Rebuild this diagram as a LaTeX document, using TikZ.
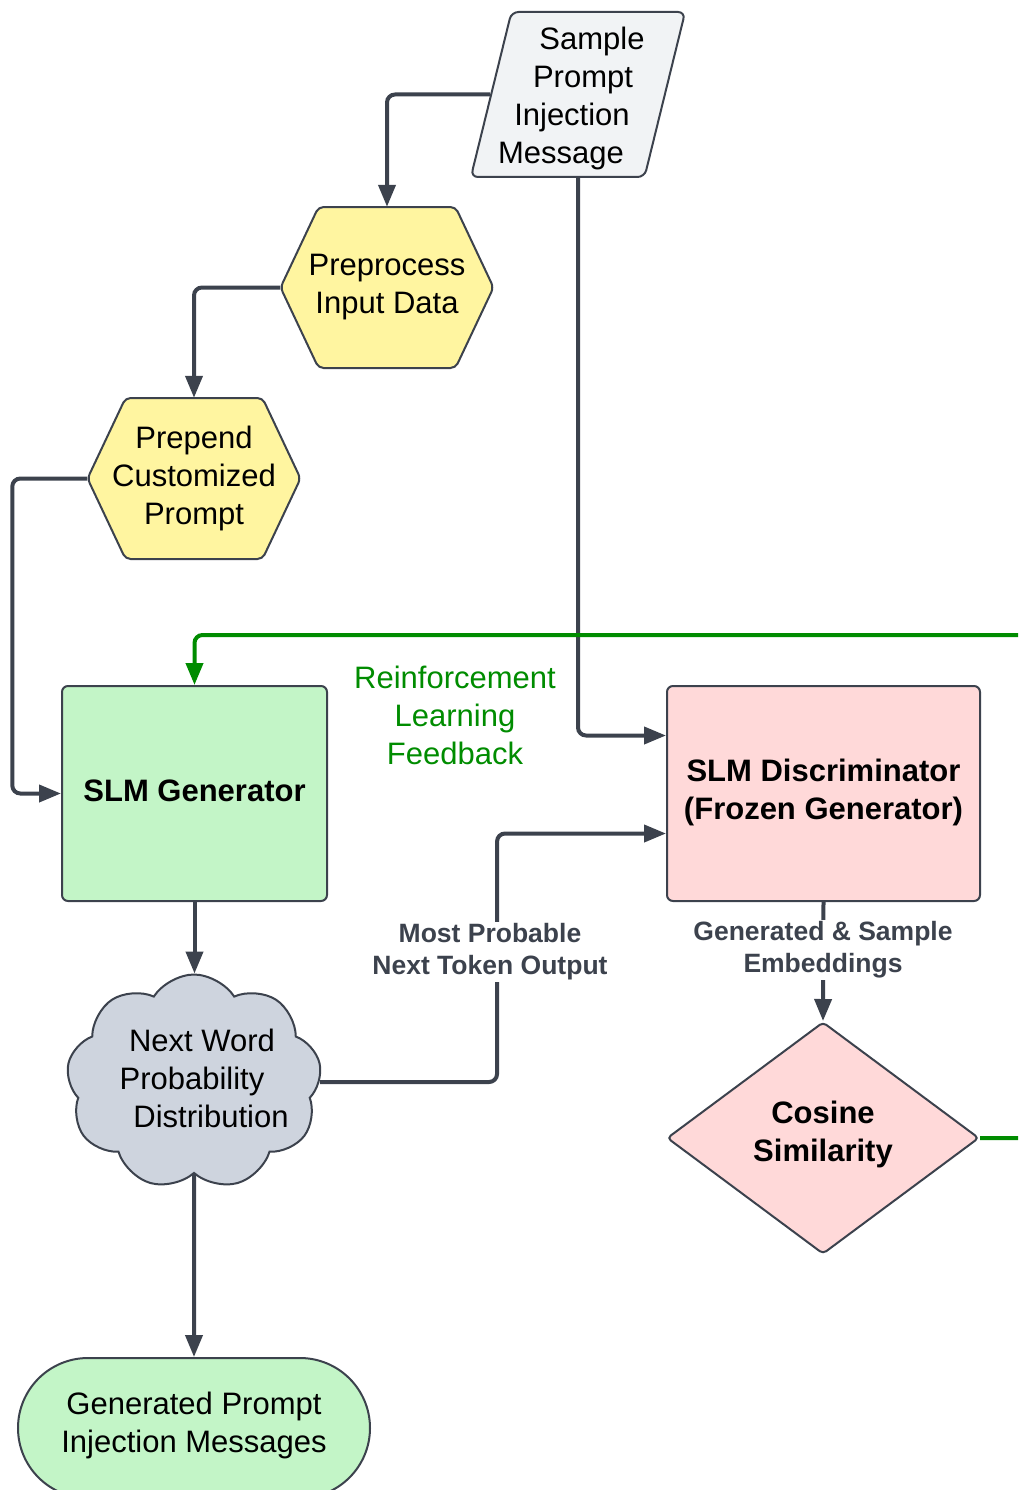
\documentclass[tikz,border=0pt]{standalone}
\usepackage{fontspec}
\setmainfont{Liberation Sans}
\usetikzlibrary{arrows.meta,shapes.geometric,shapes.symbols}
\definecolor{edgegray}{RGB}{60,66,77}
\definecolor{fbgreen}{RGB}{0,140,0}
\definecolor{boxgreen}{RGB}{195,245,199}
\definecolor{boxpink}{RGB}{255,217,217}
\definecolor{boxyellow}{RGB}{255,245,160}
\definecolor{boxgray}{RGB}{241,243,245}
\definecolor{cloudgray}{RGB}{206,212,222}
\begin{document}
\begin{tikzpicture}[x=1pt, y=-1pt,
  every node/.style={font=\fontsize{31}{38}\selectfont, align=center, text=black, inner sep=0pt},
  outline/.style={draw=edgegray, line width=2pt},
  flow/.style={draw=edgegray, line width=4pt, rounded corners=8pt},
  tip/.style={-{Triangle[length=22pt,width=17pt]}},
  fb/.style={draw=fbgreen, line width=4pt, rounded corners=8pt},
  tag/.style={font=\fontsize{26.5}{32}\selectfont\bfseries, text=edgegray, fill=white, inner sep=2pt}]
\clip (0,0) rectangle (1018,1490);

% input message
\node[trapezium, trapezium left angle=75, trapezium right angle=105, trapezium stretches=true,
  outline, fill=boxgray, rounded corners=7pt, minimum width=213, minimum height=165] (sample) at (578,94.5)
  {\rule{0pt}{31pt}\hspace*{28pt}Sample\\\hspace*{10pt}Prompt\\\hspace*{-12pt}Injection\\\hspace*{-34pt}Message};

% hexagons
\foreach \cx/\cy in {387/287.5, 194/478.5}
\filldraw[outline, fill=boxyellow, rounded corners=5pt] ({\cx-106.5},\cy) -- ({\cx-68.5},{\cy-80.5}) -- ({\cx+68.5},{\cy-80.5})
  -- ({\cx+106.5},\cy) -- ({\cx+68.5},{\cy+80.5}) -- ({\cx-68.5},{\cy+80.5}) -- cycle;
\node[minimum width=213, minimum height=161] (prep) at (387,287.5) {Preprocess\\Input Data};
\node[minimum width=213, minimum height=161] (prepend) at (194,478.5) {Prepend\\Customized\\Prompt};

% models
\node[outline, fill=boxgreen, rounded corners=6pt, minimum width=265, minimum height=215,
  font=\fontsize{31}{38}\selectfont\bfseries] (gen) at (194.5,793.5) {SLM Generator\\[-32pt]};
\node[outline, fill=boxpink, rounded corners=6pt, minimum width=313, minimum height=215,
  font=\fontsize{31}{38}\selectfont\bfseries] (disc) at (823.5,793.5) {SLM Discriminator\\(Frozen Generator)\\[-30pt]};

\node[cloud, cloud puffs=9, cloud puff arc=115, cloud ignores aspect, outline, fill=cloudgray,
  minimum width=255, minimum height=215] (cloud) at (194,1082) {};
\node (cloudtxt) at (193,1078) {\hspace*{18pt}Next Word\\\hspace*{-2pt}Probability\\\hspace*{36pt}Distribution};

\node[diamond, aspect=1.34, outline, fill=boxpink, rounded corners=4pt, minimum width=312, minimum height=232,
  font=\fontsize{31}{38}\selectfont\bfseries] (cos) at (823,1138) {Cosine\\Similarity\\[-24pt]};

\node[outline, fill=boxgreen, rounded corners=70pt, minimum width=352, minimum height=140] (out) at (194,1428)
  {Generated Prompt\\Injection Messages\\[-26pt]};

% connectors
\draw[flow,tip] (sample.west) -| (prep.north);
\draw[flow,tip] (prep.west) -| (prepend.north);
\draw[flow,tip] (prepend.west) -- ++(-75,0) |- (gen.west);
\draw[flow,tip] (sample.center |- sample.south) |- ([yshift=58pt]disc.west);
\draw[flow,tip] (gen.south) -- (gen.south |- cloud.north);
\draw[flow,tip] (cloud.east) -- ++(177,0) |- ([yshift=-40pt]disc.west);
\draw[flow,tip] (disc.south) -- (cos.north);
\draw[flow,tip] (cloud.south) -- (out.north);
\draw[fb,tip] (cos.east) -- ++(80,0) |- ([yshift=50pt]gen.north) -- (gen.north);

% labels
\node[text=fbgreen] (rl) at (455,715) {Reinforcement\\Learning\\Feedback};
\node[tag] (tok) at (490,952) {Most Probable\\Next Token Output};
\node[tag] (emb) at (823,950) {Generated \& Sample\\Embeddings};
\end{tikzpicture}
\end{document}
